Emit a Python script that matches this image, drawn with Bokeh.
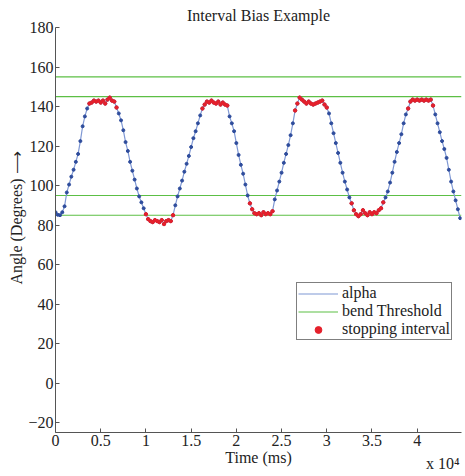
import numpy as np
from bokeh.plotting import figure
from bokeh.models import Range1d, FixedTicker, Title, Legend, LegendItem
from bokeh.embed import file_html
from bokeh.resources import INLINE

# ---- data ----
time_step_ms = 250
alpha_deg = [
    86.5, 85.2, 85.0, 86.5, 89.5, 96.5, 100.5, 104.5, 108.0, 112.0,
    116.0, 122.5, 130.0, 135.0, 139.0, 141.5, 142.0, 143.0, 142.5, 143.0,
    142.0, 143.0, 141.5, 143.5, 144.5, 143.0, 142.5, 139.5, 136.5, 133.0,
    128.0, 122.0, 117.5, 112.0, 107.5, 103.0, 98.5, 94.5, 91.5, 88.5,
    85.5, 83.0, 82.0, 81.5, 82.5, 82.0, 81.5, 82.5, 80.5, 82.0,
    82.5, 82.0, 85.0, 90.0, 94.5, 98.5, 102.5, 107.0, 111.0, 115.0,
    119.5, 124.0, 127.5, 131.5, 135.5, 139.0, 141.0, 142.5, 142.0, 143.0,
    142.0, 141.5, 142.5, 141.0, 142.0, 141.0, 140.5, 135.0, 131.5, 127.5,
    121.5, 115.5, 110.5, 106.0, 100.5, 95.0, 91.0, 88.0, 86.0, 85.5,
    86.0, 85.0, 86.5, 85.5, 86.0, 85.5, 87.0, 93.0, 97.5, 102.0,
    106.5, 111.5, 116.0, 120.5, 125.5, 131.5, 138.0, 141.5, 144.5, 143.5,
    142.5, 141.5, 142.5, 141.5, 141.0, 141.5, 142.0, 142.5, 143.0, 141.0,
    139.5, 136.5, 131.5, 126.5, 121.5, 116.5, 111.5, 106.5, 102.0, 98.0,
    94.0, 91.0, 87.5, 85.5, 84.5, 85.5, 87.5, 86.0, 85.0, 86.5,
    85.5, 86.5, 86.0, 87.5, 88.5, 91.5, 94.0, 97.0, 101.5, 106.5,
    112.0, 117.0, 121.5, 126.0, 131.5, 136.0, 139.0, 142.5, 143.5, 143.0,
    143.5, 143.0, 143.5, 143.0, 143.5, 143.0, 143.5, 140.5, 136.0, 131.5,
    127.0, 122.5, 118.5, 114.0, 108.0, 102.0, 97.0, 92.5, 88.0, 83.5,
]
time_ms = [i * time_step_ms for i in range(len(alpha_deg))]
stop_intervals_ms = [(3750, 6900), (10000, 13000), (16250, 19000), (21500, 24000),
                     (26500, 30000), (32750, 36250), (39000, 41750)]
bend_thresholds = [85, 95, 145, 155]
x_ticks = [0, 5000, 10000, 15000, 20000, 25000, 30000, 35000, 40000]
x_tick_labels = ["0", "0.5", "1", "1.5", "2", "2.5", "3", "3.5", "4"]
y_ticks = [-20, 0, 20, 40, 60, 80, 100, 120, 140, 160, 180]
y_tick_labels = ["\u221220", "0", "20", "40", "60", "80", "100", "120", "140", "160", "180"]
x_max = 44900
y_min, y_max = -25, 180

# ---- derived ----
t = np.array(time_ms, dtype=float)
a = np.array(alpha_deg, dtype=float)
mask = np.zeros(len(t), dtype=bool)
for s, e in stop_intervals_ms:
    mask |= (t >= s) & (t <= e)

FONT = "Liberation Serif"
TXT = "#222222"

p = figure(width=465, height=476, output_backend="svg", toolbar_location=None,
           x_range=Range1d(0, x_max), y_range=Range1d(y_min, y_max),
           min_border_left=55, min_border_right=4, min_border_top=27, min_border_bottom=44)
p.background_fill_color = "white"
p.border_fill_color = "white"
p.outline_line_color = None
p.xgrid.visible = False
p.ygrid.visible = False

p.title.text = "Interval Bias Example"
p.title.align = "center"
p.title.text_font = FONT
p.title.text_font_size = "16px"
p.title.text_font_style = "normal"
p.title.text_color = TXT
p.title.standoff = 8

thr = p.multi_line(xs=[[0, x_max] for _ in bend_thresholds],
                   ys=[[v, v] for v in bend_thresholds],
                   line_color="#5cbf45", line_width=1.1)
aline = p.line(t, a, line_color="#7f98d4", line_width=1.2)
p.scatter(t, a, marker="circle", size=3, fill_color="#2e4c9c", line_color="#2e4c9c")
red = p.scatter(t[mask], a[mask], marker="circle", size=3.4, fill_color="#e5202b", line_color="#e5202b")

legend = Legend(items=[LegendItem(label="alpha", renderers=[aline]),
                       LegendItem(label="bend Threshold", renderers=[thr]),
                       LegendItem(label="stopping interval", renderers=[red])],
                location=(241, 92))
legend.label_text_font = FONT
legend.label_text_font_size = "16px"
legend.label_text_color = TXT
legend.label_height = 17
legend.glyph_height = 17
legend.glyph_width = 40
legend.spacing = 0
legend.padding = 1
legend.margin = 0
legend.label_standoff = 4
legend.border_line_color = "black"
legend.border_line_width = 1.5
legend.background_fill_alpha = 1
p.add_layout(legend, "center")

for ax in (p.xaxis[0], p.yaxis[0]):
    ax.axis_line_color = "#555555"
    ax.major_tick_line_color = "#555555"
    ax.major_tick_in = 4
    ax.major_tick_out = 0
    ax.minor_tick_in = 0
    ax.minor_tick_out = 0
    ax.major_label_text_font = FONT
    ax.major_label_text_font_size = "16px"
    ax.major_label_text_color = TXT
    ax.major_label_standoff = 2
    ax.axis_label_text_font = FONT
    ax.axis_label_text_font_size = "16px"
    ax.axis_label_text_font_style = "normal"
    ax.axis_label_text_color = TXT

p.xaxis.ticker = FixedTicker(ticks=x_ticks)
p.xaxis.major_label_overrides = dict(zip(x_ticks, x_tick_labels))
p.xaxis.axis_label = "Time (ms)"
p.xaxis.axis_label_standoff = 0
p.yaxis.ticker = FixedTicker(ticks=y_ticks)
p.yaxis.major_label_overrides = dict(zip(y_ticks, y_tick_labels))
p.yaxis.axis_label = "\u00a0" * 6 + "Angle (Degrees) \u27f6"
p.yaxis.axis_label_standoff = 0

p.add_layout(Title(text="x 10\u2074", align="right", vertical_align="top", text_font=FONT,
                   text_font_size="16px", text_font_style="normal", text_color=TXT,
                   standoff=-28, offset=2), "below")

open("out.html", "w").write(file_html(p, INLINE))
